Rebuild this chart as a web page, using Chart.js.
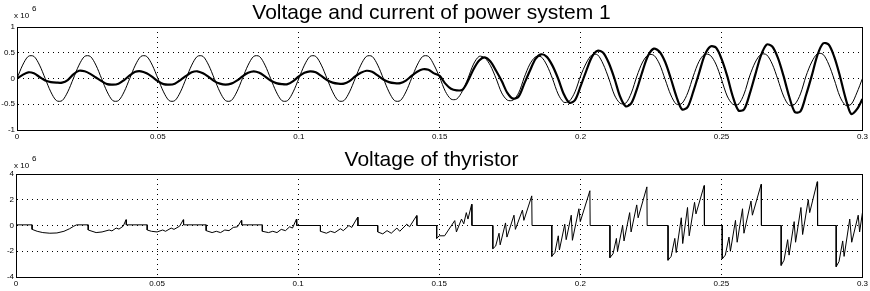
<!DOCTYPE html>
<html>
<head>
<meta charset="utf-8">
<script src="https://cdn.jsdelivr.net/npm/chart.js@4.4.1/dist/chart.umd.min.js"></script>
<style>
  html, body { margin: 0; padding: 0; background: #fff; }
  #wrap { position: relative; width: 870px; height: 291px; }
  canvas { position: absolute; left: 0; }
  #top { top: 0; }
  #bottom { top: 145px; }
</style>
</head>
<body>
<div id="wrap">
  <canvas id="top" width="870" height="145"></canvas>
  <canvas id="bottom" width="870" height="146"></canvas>
</div>
<script>
// sample grid of the upper plot (seconds)
const sampleStep = 0.002;
const sampleCount = 151;

// thin trace, upper plot (x10^6), one value per sample
const voltage1 = [
  0, 0.26, 0.43, 0.43, 0.26, 0, -0.26, -0.43, -0.43, -0.26,
  0, 0.26, 0.43, 0.43, 0.26, 0, -0.26, -0.43, -0.43, -0.26,
  0, 0.26, 0.43, 0.43, 0.26, 0, -0.26, -0.43, -0.43, -0.26,
  0, 0.26, 0.43, 0.43, 0.26, 0, -0.26, -0.43, -0.43, -0.26,
  0, 0.26, 0.43, 0.43, 0.26, 0, -0.26, -0.43, -0.43, -0.26,
  0, 0.26, 0.43, 0.43, 0.26, 0, -0.26, -0.43, -0.43, -0.26,
  0, 0.26, 0.43, 0.43, 0.26, 0, -0.26, -0.43, -0.43, -0.26,
  0, 0.26, 0.43, 0.43, 0.26,
  0.02, -0.25, -0.40, -0.40, -0.25, 0.0, 0.28, 0.43, 0.40, 0.25,
  0.0, -0.28, -0.42, -0.42, -0.28, 0.02, 0.28, 0.42, 0.42, 0.26,
  0.0, -0.30, -0.46, -0.44, -0.26, 0.05, 0.30, 0.46, 0.46, 0.28,
  0.0, -0.32, -0.48, -0.48, -0.28, 0.05, 0.32, 0.46, 0.45, 0.28,
  -0.02, -0.32, -0.50, -0.48, -0.28, 0.05, 0.33, 0.47, 0.45, 0.28,
  -0.02, -0.34, -0.50, -0.50, -0.30, 0.05, 0.32, 0.47, 0.46, 0.28,
  -0.02, -0.34, -0.52, -0.50, -0.30, 0.05, 0.32, 0.48, 0.47, 0.28,
  -0.02, -0.35, -0.52, -0.50, -0.28, 0.0
];

// thick trace, upper plot (x10^6)
const current1 = [
  0.00, 0.07, 0.12, 0.10, 0.03, -0.04, -0.07, -0.08, -0.08, -0.03,
  0.08, 0.15, 0.14, 0.09, 0.02, -0.05, -0.11, -0.12, -0.10, -0.03,
  0.06, 0.13, 0.14, 0.10, 0.03, -0.05, -0.11, -0.12, -0.10, -0.03,
  0.05, 0.12, 0.14, 0.10, 0.03, -0.05, -0.10, -0.12, -0.10, -0.04,
  0.04, 0.11, 0.14, 0.11, 0.04, -0.04, -0.09, -0.11, -0.11, -0.05,
  0.04, 0.11, 0.14, 0.12, 0.05, -0.03, -0.08, -0.10, -0.10, -0.05,
  0.04, 0.11, 0.15, 0.13, 0.06, -0.02, -0.07, -0.09, -0.09, -0.04,
  0.05, 0.13, 0.18, 0.17, 0.10,
  0.05, -0.10, -0.20, -0.23, -0.22, -0.05, 0.18, 0.35, 0.41, 0.33,
  0.15, -0.05, -0.28, -0.39, -0.35, -0.10, 0.15, 0.38, 0.47, 0.42,
  0.25, 0.0, -0.30, -0.47, -0.42, -0.15, 0.15, 0.42, 0.54, 0.50,
  0.30, 0.0, -0.35, -0.54, -0.48, -0.20, 0.15, 0.45, 0.58, 0.52,
  0.32, 0.0, -0.35, -0.60, -0.55, -0.25, 0.10, 0.45, 0.62, 0.60,
  0.38, 0.05, -0.35, -0.62, -0.60, -0.30, 0.08, 0.45, 0.66, 0.62,
  0.40, 0.05, -0.35, -0.65, -0.64, -0.32, 0.05, 0.45, 0.68, 0.66,
  0.42, 0.05, -0.38, -0.69, -0.60, -0.40
];

// thyristor voltage breakpoints (seconds, x10^6)
const thyTime = [
  0,
  0.0057, 0.0057, 0.0075, 0.0095, 0.0120, 0.0145, 0.0170, 0.0190, 0.0205, 0.0215,
  0.0256, 0.0256, 0.0284, 0.0305, 0.0330, 0.0340, 0.0355, 0.0365, 0.0380, 0.0390, 0.0391,
  0.0465, 0.0465, 0.0480, 0.0500, 0.0520, 0.0530, 0.0550, 0.0560, 0.0580, 0.0593, 0.0594,
  0.0674, 0.0674, 0.0695, 0.0710, 0.0725, 0.0740, 0.0755, 0.0770, 0.0785, 0.0799, 0.0800,
  0.0873, 0.0873, 0.0895, 0.0910, 0.0925, 0.0940, 0.0955, 0.0970, 0.0980, 0.0994, 0.0995,
  0.1079, 0.1079, 0.1100, 0.1115, 0.1130, 0.1150, 0.1160, 0.1180, 0.1190, 0.1211, 0.1212,
  0.1282, 0.1282, 0.1300, 0.1315, 0.1330, 0.1350, 0.1360, 0.1385, 0.1395, 0.1420, 0.1421,
  0.1491, 0.1491, 0.1500, 0.1519, 0.1555, 0.1561, 0.1579, 0.1587, 0.1596, 0.1602, 0.1615, 0.1616,
  0.1690, 0.1690, 0.1700, 0.1712, 0.1716, 0.1735, 0.1740, 0.1765, 0.1770, 0.1795, 0.1800, 0.1828, 0.1829,
  0.1899, 0.1899, 0.1910, 0.1922, 0.1926, 0.1945, 0.1950, 0.1968, 0.1972, 0.1995, 0.2000, 0.2034, 0.2035,
  0.2105, 0.2105, 0.2116, 0.2128, 0.2132, 0.2150, 0.2155, 0.2175, 0.2180, 0.2200, 0.2205, 0.2236, 0.2237,
  0.2311, 0.2311, 0.2322, 0.2335, 0.2340, 0.2358, 0.2363, 0.2380, 0.2386, 0.2405, 0.2410, 0.2439, 0.2440,
  0.2503, 0.2503, 0.2514, 0.2527, 0.2532, 0.2550, 0.2556, 0.2575, 0.2580, 0.2605, 0.2610, 0.2641, 0.2642,
  0.2712, 0.2712, 0.2722, 0.2735, 0.2740, 0.2758, 0.2763, 0.2782, 0.2788, 0.2808, 0.2813, 0.2840, 0.2841,
  0.2907, 0.2907, 0.2917, 0.2930, 0.2935, 0.2955, 0.2962, 0.2985, 0.2990, 0.3000
];
const thyVolt = [
  0.05,
  0.05, -0.3, -0.45, -0.55, -0.6, -0.58, -0.45, -0.25, -0.05, 0.05,
  0.05, -0.35, -0.55, -0.5, -0.35, -0.42, -0.2, -0.28, -0.05, 0.45, 0.05,
  0.05, -0.35, -0.45, -0.5, -0.35, -0.45, -0.2, -0.3, -0.05, 0.45, 0.05,
  0.05, -0.4, -0.55, -0.45, -0.55, -0.35, -0.4, -0.15, -0.1, 0.4, 0.05,
  0.05, -0.45, -0.55, -0.45, -0.55, -0.3, -0.4, -0.1, -0.2, 0.5, 0.0,
  0.0, -0.45, -0.6, -0.45, -0.55, -0.25, -0.4, 0.0, -0.15, 0.65, 0.0,
  0.0, -0.5, -0.65, -0.4, -0.6, -0.2, -0.45, 0.1, -0.1, 0.77, 0.0,
  0.0, -1.0, -0.8, -0.8, 0.38, -0.5, 0.5, 0.13, 1.0, 0.5, 1.65, 0.0,
  0.0, -1.8, -1.6, -0.6, -1.5, 0.2, -0.9, 0.8, -0.3, 1.2, 0.4, 2.3, 0.0,
  0.0, -2.4, -2.1, -0.8, -1.9, 0.1, -1.1, 0.8, -1.15, 1.3, 0.3, 2.7, 0.0,
  0.0, -2.5, -2.2, -1.0, -2.0, 0.0, -1.2, 1.0, -0.5, 1.6, 0.6, 3.0, 0.0,
  0.0, -2.7, -2.4, -1.0, -2.1, 0.6, -1.4, 1.4, -0.8, 1.8, 0.9, 3.1, 0.0,
  0.0, -2.6, -2.3, -0.9, -2.0, 0.4, -1.3, 1.3, -0.6, 1.9, 0.8, 3.2, 0.0,
  0.0, -3.1, -2.7, -1.1, -2.3, 0.3, -1.3, 1.4, -0.7, 2.0, 1.0, 3.4, 0.0,
  0.0, -3.2, -2.8, -1.2, -2.4, 0.5, -1.3, 0.8, -0.5, 1.0
];

const topTicksY = [-1, -0.5, 0, 0.5, 1];
const bottomTicksY = [-4, -2, 0, 2, 4];
const tickLabelsX = ['0', '0.05', '0.1', '0.15', '0.2', '0.25', '0.3'];

const FONT = '"Liberation Sans", Arial, Helvetica, sans-serif';
const sampleTimes = Array.from({ length: sampleCount }, (_, i) => +(i * sampleStep).toFixed(3));

// frame around the plot area plus the "x 10^6" multiplier label
const frameAndExponent = {
  id: 'frameAndExponent',
  afterDraw(chart, args, opts) {
    const { ctx, chartArea: a } = chart;
    ctx.save();
    ctx.strokeStyle = '#000';
    ctx.lineWidth = 1;
    ctx.strokeRect(Math.round(a.left) + 0.5, Math.round(a.top) + 0.5,
      Math.round(a.right - a.left), Math.round(a.bottom - a.top));
    ctx.fillStyle = '#000';
    ctx.textBaseline = 'alphabetic';
    ctx.font = '8px ' + FONT;
    ctx.fillText('x 10', opts.x, opts.y);
    ctx.fillText('6', opts.x + 18, opts.y - 7);
    ctx.restore();
  }
};

function xAxis(height) {
  return {
    type: 'linear',
    min: 0,
    max: 0.3,
    afterFit: s => { s.height = height; },
    afterBuildTicks: s => { s.ticks = tickLabelsX.map(v => ({ value: +v })); },
    ticks: {
      color: '#000',
      font: { size: 8, family: FONT },
      padding: 2,
      maxRotation: 0,
      callback: (v) => tickLabelsX.find(t => +t === +v.toFixed(2))
    },
    grid: { color: '#000', lineWidth: 1, drawTicks: false },
    border: { display: true, color: '#000', dash: [1, 4] }
  };
}

function yAxis(width, ticksY) {
  return {
    min: ticksY[0],
    max: ticksY[ticksY.length - 1],
    afterFit: s => { s.width = width; },
    afterBuildTicks: s => { s.ticks = ticksY.map(v => ({ value: v })); },
    ticks: {
      color: '#000',
      font: { size: 8, family: FONT },
      padding: 2,
      callback: (v) => String(v)
    },
    grid: { color: '#000', lineWidth: 1, drawTicks: false },
    border: { display: true, color: '#000', dash: [1, 4] }
  };
}

function titleOpts(text, padTop, padBottom) {
  return {
    display: true,
    text: text,
    color: '#000',
    font: { size: 21, weight: 'normal', family: FONT },
    padding: { top: padTop, bottom: padBottom }
  };
}

new Chart(document.getElementById('top'), {
  type: 'line',
  data: {
    datasets: [
      {
        label: 'voltage',
        data: sampleTimes.map((t, i) => ({ x: t, y: voltage1[i] })),
        borderColor: '#000',
        borderWidth: 1,
        pointRadius: 0,
        tension: 0.3
      },
      {
        label: 'current',
        data: sampleTimes.map((t, i) => ({ x: t, y: current1[i] })),
        borderColor: '#000',
        borderWidth: 2.2,
        pointRadius: 0,
        tension: 0.3
      }
    ]
  },
  options: {
    responsive: false,
    animation: false,
    layout: { padding: { left: 0, right: 7, top: 0, bottom: 0 } },
    plugins: {
      legend: { display: false },
      tooltip: { enabled: false },
      title: titleOpts('Voltage and current of power system 1', 1, 0.8),
      frameAndExponent: { x: 14, y: 18 }
    },
    scales: { x: xAxis(15), y: yAxis(17, topTicksY) }
  },
  plugins: [frameAndExponent]
});

new Chart(document.getElementById('bottom'), {
  type: 'line',
  data: {
    datasets: [
      {
        label: 'thyristor',
        data: thyTime.map((t, i) => ({ x: t, y: thyVolt[i] })),
        borderColor: '#000',
        borderWidth: 1,
        pointRadius: 0,
        tension: 0
      }
    ]
  },
  options: {
    responsive: false,
    animation: false,
    layout: { padding: { left: 0, right: 7, top: 0, bottom: 0 } },
    plugins: {
      legend: { display: false },
      tooltip: { enabled: false },
      title: titleOpts('Voltage of thyristor', 2.5, 1.3),
      frameAndExponent: { x: 14, y: 23 }
    },
    scales: { x: xAxis(14), y: yAxis(16, bottomTicksY) }
  },
  plugins: [frameAndExponent]
});
</script>
</body>
</html>
